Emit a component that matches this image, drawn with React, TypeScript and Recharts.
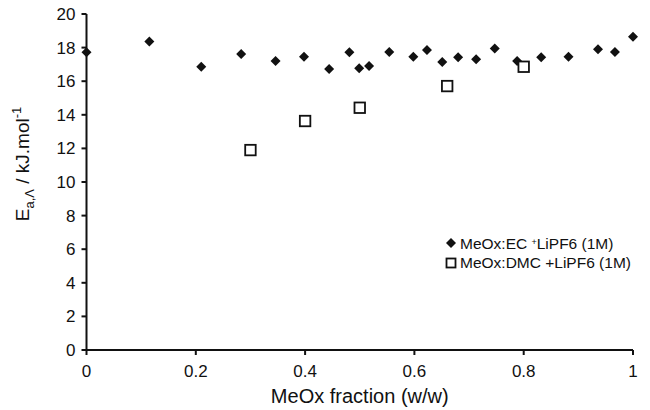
import { ScatterChart, Scatter, XAxis, YAxis, Legend } from "recharts";

const ecX = [0, 0.115, 0.21, 0.283, 0.346, 0.398, 0.444, 0.481, 0.499, 0.517, 0.554, 0.598, 0.623, 0.651, 0.68, 0.713, 0.747, 0.788, 0.832, 0.882, 0.936, 0.967, 1.0];
const ecY = [17.72, 18.37, 16.86, 17.62, 17.2, 17.46, 16.73, 17.72, 16.77, 16.9, 17.74, 17.46, 17.86, 17.14, 17.42, 17.3, 17.95, 17.2, 17.42, 17.46, 17.9, 17.74, 18.65];
const dmcX = [0.3, 0.4, 0.5, 0.66, 0.8];
const dmcY = [11.9, 13.63, 14.42, 15.71, 16.86];

const xTicks = [0, 0.2, 0.4, 0.6, 0.8, 1];
const yTicks = [0, 2, 4, 6, 8, 10, 12, 14, 16, 18, 20];

const ecData = ecX.map((x, i) => ({ x, y: ecY[i] }));
const dmcData = dmcX.map((x, i) => ({ x, y: dmcY[i] }));

const FONT = "'Liberation Sans', Arial, sans-serif";
const INK = "#111";

function Diamond(props: any) {
  const { cx, cy } = props;
  const r = 5;
  return <path d={`M${cx},${cy - r}L${cx + r},${cy}L${cx},${cy + r}L${cx - r},${cy}Z`} fill={INK} />;
}

function Square(props: any) {
  const { cx, cy } = props;
  const s = 10.5;
  return <rect x={cx - s / 2} y={cy - s / 2} width={s} height={s} fill="#fff" stroke={INK} strokeWidth={1.8} />;
}

function YLabel() {
  return (
    <text
      x={29}
      y={164}
      transform="rotate(-90, 29, 164)"
      textAnchor="middle"
      fontFamily={FONT}
      fontSize={19}
      fill={INK}
    >
      E
      <tspan dy={5} fontSize={13}>a,Λ</tspan>
      <tspan dy={-5}> / kJ.mol</tspan>
      <tspan dy={-8} fontSize={13}>-1</tspan>
    </text>
  );
}

function LegendBox() {
  const row = { display: "flex", alignItems: "center", height: 20, whiteSpace: "nowrap" as const };
  return (
    <div style={{ fontFamily: FONT, fontSize: 15.5, color: INK, lineHeight: "20px" }}>
      <div style={row}>
        <svg width={12} height={12} style={{ marginRight: 3 }}>
          <path d="M6,1L11,6L6,11L1,6Z" fill={INK} />
        </svg>
        <span>
          MeOx:EC <span style={{ fontSize: 9, verticalAlign: "4px" }}>+</span>LiPF6 (1M)
        </span>
      </div>
      <div style={row}>
        <svg width={12} height={12} style={{ marginRight: 3 }}>
          <rect x={1.5} y={1.5} width={9} height={9} fill="#fff" stroke={INK} strokeWidth={1.8} />
        </svg>
        <span>MeOx:DMC +LiPF6 (1M)</span>
      </div>
    </div>
  );
}

export default function App() {
  return (
    <div style={{ position: "absolute", left: 0, top: 0, background: "#fff" }}>
      <ScatterChart width={650} height={410} margin={{ top: 14, right: 17, bottom: 0, left: 0 }}>
        <XAxis
          type="number"
          dataKey="x"
          domain={[0, 1]}
          ticks={xTicks}
          height={60}
          tickSize={5}
          tickMargin={10}
          stroke={INK}
          axisLine={{ stroke: INK, strokeWidth: 2 }}
          tickLine={{ stroke: INK, strokeWidth: 2 }}
          tick={{ fill: INK, fontSize: 17, fontFamily: FONT }}
          label={{
            value: "MeOx fraction (w/w)",
            position: "insideBottom",
            offset: 7,
            fill: INK,
            fontSize: 20,
            fontFamily: FONT,
          }}
        />
        <YAxis
          type="number"
          dataKey="y"
          domain={[0, 20]}
          ticks={yTicks}
          width={86.5}
          tickSize={5}
          tickMargin={6}
          stroke={INK}
          axisLine={{ stroke: INK, strokeWidth: 2 }}
          tickLine={{ stroke: INK, strokeWidth: 2 }}
          tick={{ fill: INK, fontSize: 17, fontFamily: FONT }}
          label={<YLabel />}
        />
        <Legend
          layout="vertical"
          align="center"
          verticalAlign="middle"
          content={<LegendBox />}
          wrapperStyle={{ left: 445, top: 233, width: 200, bottom: "auto" }}
        />
        <Scatter name="MeOx:EC +LiPF6 (1M)" data={ecData} shape={<Diamond />} isAnimationActive={false} />
        <Scatter name="MeOx:DMC +LiPF6 (1M)" data={dmcData} shape={<Square />} isAnimationActive={false} />
      </ScatterChart>
    </div>
  );
}
